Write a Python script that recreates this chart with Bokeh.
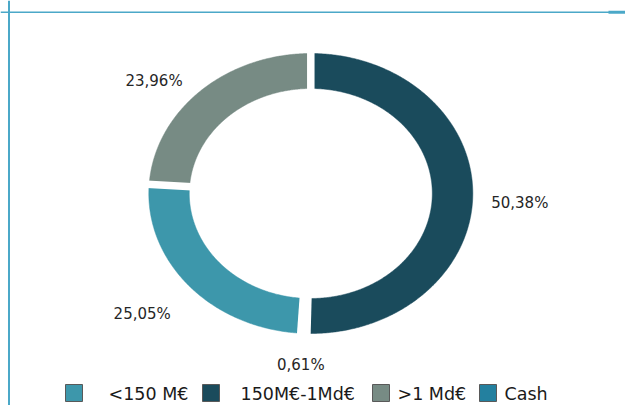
import numpy as np
from bokeh.plotting import figure
from bokeh.models import Range1d, Span
from bokeh.embed import file_html
from bokeh.resources import INLINE
from bokeh.core.properties import value

# ---- data ----
categories = ["150M€-1Md€", "Cash", "<150 M€", ">1 Md€"]
shares = [50.38, 0.61, 25.05, 23.96]
labels = ["50,38%", "0,61%", "25,05%", "23,96%"]
colors = ["#1A4B5C", "#23809F", "#3D97AB", "#778B84"]

legend_names = ["<150 M€", "150M€-1Md€", ">1 Md€", "Cash"]
legend_colors = ["#3D97AB", "#1A4B5C", "#778B84", "#23809F"]

# ---- layout (pixel-like data space) ----
W, H = 625, 405
CX, CY = 310.3, 193.0
RX, RY = 162.0, 140.0
HOLE = 0.75
label_nudge_x = [47, -3, -47, -46]
label_nudge_y = [8, 32, 28, -10]
legend_sq_left = [65, 202, 372, 479]
legend_txt_left = [108, 240, 397, 504]
legend_sq_top = 384
legend_sq_size = 17
legend_baseline = 393

p = figure(width=W, height=H, output_backend="svg", toolbar_location=None,
           x_range=Range1d(0, W), y_range=Range1d(H, 0),
           x_axis_type=None, y_axis_type=None, min_border=0)
p.xgrid.visible = False
p.ygrid.visible = False
p.outline_line_color = None
p.background_fill_color = "white"
p.border_fill_color = "white"

total = sum(shares)
angles = np.cumsum([0] + [s / total * 2 * np.pi for s in shares])


def pt(r, t):
    return CX + r * RX * np.sin(t), CY - r * RY * np.cos(t)


xs, ys = [], []
for a0, a1 in zip(angles[:-1], angles[1:]):
    t = np.linspace(a0, a1, max(int((a1 - a0) * 120), 4))
    ox, oy = pt(1.0, t)
    ix, iy = pt(HOLE, t[::-1])
    xs.append(list(ox) + list(ix))
    ys.append(list(oy) + list(iy))

p.patches(xs, ys, fill_color=colors, line_color=colors, line_width=0.5)

# white separators between slices
bx0, by0 = pt(HOLE - 0.04, angles[:-1])
bx1, by1 = pt(1.04, angles[:-1])
p.segment(x0=bx0, y0=by0, x1=bx1, y1=by1, line_color="white", line_width=7.5)

# data labels
mids = (angles[:-1] + angles[1:]) / 2
lx, ly = pt(1.0, mids)
lx = lx + np.array(label_nudge_x)
ly = ly + np.array(label_nudge_y)
p.text(x=lx, y=ly, text=labels, text_font=value("DejaVu Sans"),
       text_font_size="15px", text_align="center", text_baseline="middle",
       text_color="#262626")

# legend
sq_x = np.array(legend_sq_left) + legend_sq_size / 2
p.rect(x=sq_x, y=[legend_sq_top + legend_sq_size / 2] * 4,
       width=legend_sq_size, height=legend_sq_size,
       fill_color=legend_colors, line_color="#595959", line_width=1)
p.text(x=legend_txt_left, y=[legend_baseline] * 4, text=legend_names,
       text_font=value("DejaVu Sans"), text_font_size="17.5px",
       text_align="left", text_baseline="alphabetic", text_color="#1a1a1a")

# frame lines
p.add_layout(Span(location=8.5, dimension="height", line_color="#4BA8C8", line_width=2))
p.add_layout(Span(location=11.7, dimension="width", line_color="#4BA8C8", line_width=1.5))
p.segment(x0=[608], y0=[11.7], x1=[W], y1=[11.7], line_color="#4BA8C8", line_width=3)

open("out.html", "w").write(file_html(p, INLINE))
